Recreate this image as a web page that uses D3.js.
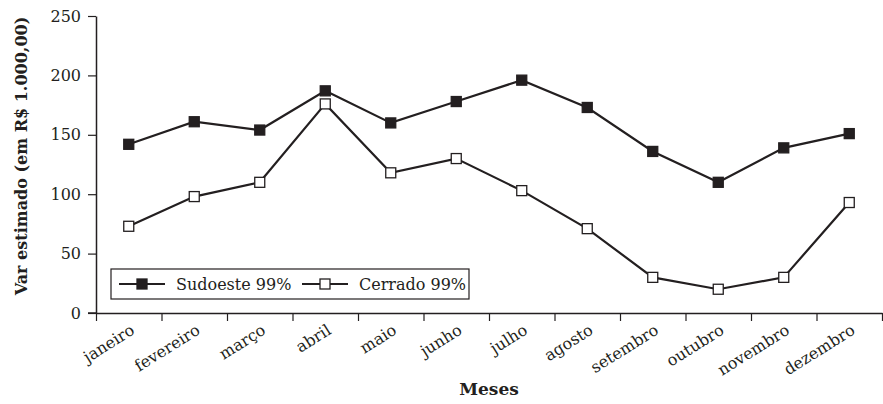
<!DOCTYPE html>
<html><head><meta charset="utf-8">
<script src="https://cdn.jsdelivr.net/npm/d3@7"></script>
<style>body{margin:0;background:#fff}svg{display:block}</style>
</head><body><svg id="c" width="883" height="404"></svg>
<script>
const months = ["janeiro","fevereiro","março","abril","maio","junho","julho","agosto","setembro","outubro","novembro","dezembro"];
const sudoeste = [142,161,154,187,160,178,196,173,136,110,139,151];
const cerrado = [73,98,110,176,118,130,103,71,30,20,30,93];
const yTicks = [0,50,100,150,200,250];
const seriesNames = ["Sudoeste 99%","Cerrado 99%"];

const ink = "#231f20";
const font = "'DejaVu Serif',serif";
const svg = d3.select("#c");
const L = 96, R = 882, T = 16, B = 313;
const x = d3.scaleBand().domain(months).range([L, R]).padding(0);
const xi = d3.scaleLinear().domain([0, months.length]).range([L, R]);
const y = d3.scaleLinear().domain([0, 250]).range([B, T]);

// y axis
const ya = svg.append("g").attr("transform", `translate(${L},0)`)
  .call(d3.axisLeft(y).tickValues(yTicks).tickSize(8).tickSizeOuter(0).tickPadding(7));
ya.select(".domain").attr("stroke", ink).attr("stroke-width", 1.5);
ya.selectAll(".tick line").attr("stroke", ink).attr("stroke-width", 1.2);
ya.selectAll("text").attr("font-family", font).attr("font-size", 16).attr("fill", ink);

// x axis
const xa = svg.append("g").attr("transform", `translate(0,${B})`)
  .call(d3.axisBottom(xi).tickValues(d3.range(months.length + 1)).tickSize(8).tickSizeOuter(0).tickFormat(""));
xa.select(".domain").attr("stroke", ink).attr("stroke-width", 1.5);
xa.selectAll(".tick line").attr("stroke", ink).attr("stroke-width", 1.2);
svg.append("line").attr("x1", L - 8).attr("x2", L).attr("y1", B).attr("y2", B).attr("stroke", ink).attr("stroke-width", 1.5);

svg.append("g").selectAll("text").data(months).join("text")
  .attr("transform", d => `translate(${x(d) + x.bandwidth() / 2 + 7},${B + 20}) rotate(-32)`)
  .attr("text-anchor", "end").attr("font-family", font).attr("font-size", 16).attr("fill", ink)
  .text(d => d);

// titles
svg.append("text").attr("transform", `translate(27,156) rotate(-90)`)
  .attr("text-anchor", "middle").attr("font-family", font).attr("font-weight", "bold")
  .attr("font-size", 16).attr("fill", ink).text("Var estimado (em R$ 1.000,00)");
svg.append("text").attr("x", 489).attr("y", 395).attr("text-anchor", "middle")
  .attr("font-family", font).attr("font-weight", "bold").attr("font-size", 17).attr("fill", ink).text("Meses");

const line = d3.line().x((d, i) => x(months[i]) + x.bandwidth() / 2).y(d => y(d));
const series = [{name: seriesNames[0], vals: sudoeste, fill: ink}, {name: seriesNames[1], vals: cerrado, fill: "#fff"}];
series.forEach(s => {
  svg.append("path").datum(s.vals).attr("d", line).attr("fill", "none").attr("stroke", ink).attr("stroke-width", 2.2);
  svg.append("g").selectAll("rect").data(s.vals).join("rect")
    .attr("x", (d, i) => x(months[i]) + x.bandwidth() / 2 - 5)
    .attr("y", d => y(d) - 5).attr("width", 10).attr("height", 10)
    .attr("fill", s.fill).attr("stroke", ink).attr("stroke-width", 1.3);
});

// legend
const lg = svg.append("g");
lg.append("rect").attr("x", 111).attr("y", 269).attr("width", 358).attr("height", 30)
  .attr("fill", "#fff").attr("stroke", ink).attr("stroke-width", 1.2);
const lpos = [{x1: 119, x2: 165, tx: 176}, {x1: 302, x2: 348, tx: 359}];
series.forEach((s, i) => {
  const p = lpos[i];
  lg.append("line").attr("x1", p.x1).attr("x2", p.x2).attr("y1", 284).attr("y2", 284).attr("stroke", ink).attr("stroke-width", 2);
  lg.append("rect").attr("x", (p.x1 + p.x2) / 2 - 5).attr("y", 279).attr("width", 10).attr("height", 10)
    .attr("fill", s.fill).attr("stroke", ink).attr("stroke-width", 1.3);
  lg.append("text").attr("x", p.tx).attr("y", 290).attr("font-family", font).attr("font-size", 16)
    .attr("fill", ink).text(s.name);
});
</script></body></html>
